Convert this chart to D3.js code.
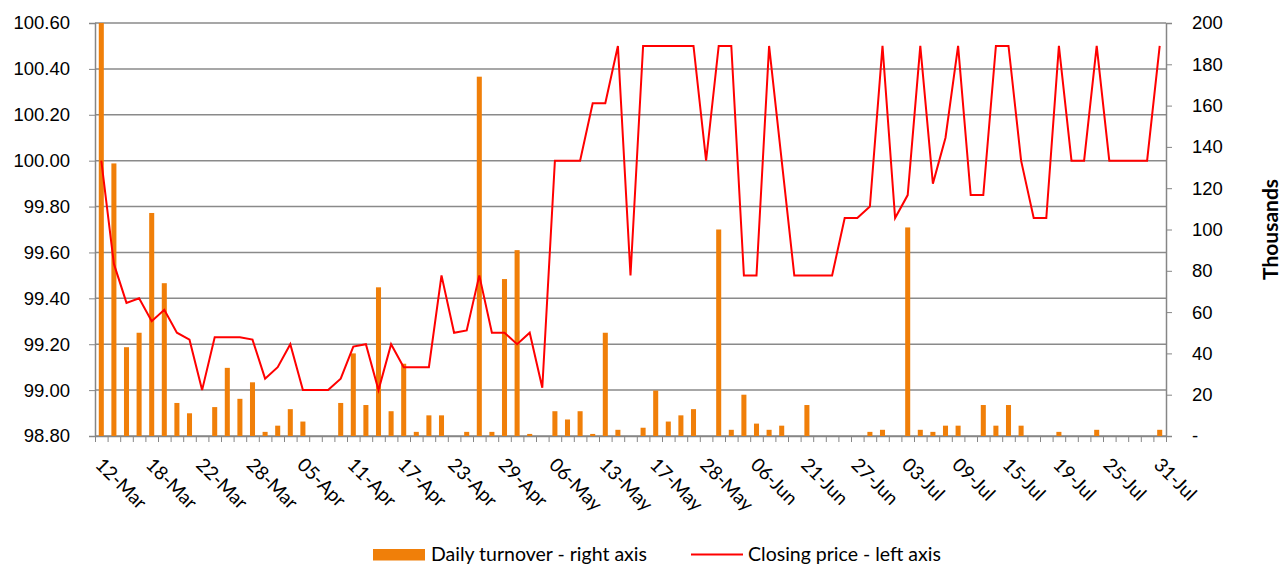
<!DOCTYPE html>
<html>
<head>
<meta charset="utf-8">
<script src="https://cdn.jsdelivr.net/npm/d3@7"></script>
<style>
  body { margin: 0; background: #fff; }
  svg { font-family: Lato, 'Open Sans', sans-serif; }
  .axis path, .axis line { stroke: #868686; }
  .axis text { fill: #000; font-size: 18.5px; }
</style>
</head>
<body>
<div id="chart"></div>
<script>
// trading days, labels every 4th day
var tickLabels = ['12-Mar', '18-Mar', '22-Mar', '28-Mar', '05-Apr', '11-Apr',
    '17-Apr', '23-Apr', '29-Apr', '06-May', '13-May', '17-May', '28-May',
    '06-Jun', '21-Jun', '27-Jun', '03-Jul', '09-Jul', '15-Jul', '19-Jul',
    '25-Jul', '31-Jul']

// daily turnover, thousands (right axis)
var turnover = [200, 132, 43, 50, 108, 74, 16, 11, 0, 14,
    33, 18, 26, 2, 5, 13, 7, 0, 0, 16,
    40, 15, 72, 12, 35, 2, 10, 10, 0, 2,
    174, 2, 76, 90, 1, 0, 12, 8, 12, 1,
    50, 3, 0, 4, 22, 7, 10, 13, 0, 100,
    3, 20, 6, 3, 5, 0, 15, 0, 0, 0,
    0, 2, 3, 0, 101, 3, 2, 5, 5, 0,
    15, 5, 15, 5, 0, 0, 2, 0, 0, 3,
    0, 0, 0, 0, 3]

// closing price (left axis)
var closing = [100.00, 99.55, 99.38, 99.40, 99.30, 99.35, 99.25, 99.22, 99.00, 99.23,
    99.23, 99.23, 99.22, 99.05, 99.10, 99.20, 99.00, 99.00, 99.00, 99.05,
    99.19, 99.20, 99.00, 99.20, 99.10, 99.10, 99.10, 99.50, 99.25, 99.26,
    99.50, 99.25, 99.25, 99.20, 99.25, 99.01, 100.00, 100.00, 100.00, 100.25,
    100.25, 100.50, 99.50, 100.50, 100.50, 100.50, 100.50, 100.50, 100.00, 100.50,
    100.50, 99.50, 99.50, 100.50, 100.00, 99.50, 99.50, 99.50, 99.50, 99.75,
    99.75, 99.80, 100.50, 99.75, 99.85, 100.50, 99.90, 100.10, 100.50, 99.85,
    99.85, 100.50, 100.50, 100.00, 99.75, 99.75, 100.50, 100.00, 100.00, 100.50,
    100.00, 100.00, 100.00, 100.00, 100.50]

var priceTicks = [98.8, 99.0, 99.2, 99.4, 99.6, 99.8, 100.0, 100.2, 100.4, 100.6]
var turnoverTicks = [0, 20, 40, 60, 80, 100, 120, 140, 160, 180, 200]

var plotLeft = 95, plotRight = 1166, plotTop = 23, plotBottom = 436

var svg = d3.select('#chart')
    .append('svg')
    .attr('width', 1282)
    .attr('height', 565)

var x = d3.scaleBand()
    .domain(d3.range(closing.length))
    .range([plotLeft, plotRight])
    .paddingInner(0.6)
    .paddingOuter(0.3)

var xEdge = d3.scaleLinear()
    .domain([0, closing.length])
    .range([plotLeft, plotRight])

var yPrice = d3.scaleLinear()
    .domain([98.8, 100.6])
    .range([plotBottom, plotTop])

var yVol = d3.scaleLinear()
    .domain([0, 200])
    .range([plotBottom, plotTop])
    .clamp(true)

// gridlines
svg.append('g')
    .selectAll('line')
    .data(priceTicks)
    .enter()
    .append('line')
    .attr('x1', plotLeft)
    .attr('x2', plotRight)
    .attr('y1', (d) => yPrice(d))
    .attr('y2', (d) => yPrice(d))
    .attr('stroke', '#8a8a8a')
    .attr('stroke-width', 1.5)

// left axis
var gl = svg.append('g')
    .attr('class', 'axis')
    .attr('transform', 'translate(' + plotLeft + ',0)')
    .call(d3.axisLeft(yPrice)
        .tickValues(priceTicks)
        .tickFormat(d3.format('.2f'))
        .tickSize(6)
        .tickPadding(19))
gl.select('.domain').attr('stroke-width', 1.5)

// right axis
var gr = svg.append('g')
    .attr('class', 'axis')
    .attr('transform', 'translate(' + plotRight + ',0)')
    .call(d3.axisRight(yVol)
        .tickValues(turnoverTicks)
        .tickFormat((d) => d === 0 ? '-' : d)
        .tickSize(6)
        .tickPadding(20))
gr.select('.domain').attr('stroke-width', 1.5)

// bottom axis ticks between days
var gb = svg.append('g')
    .attr('class', 'axis')
    .attr('transform', 'translate(0,' + plotBottom + ')')
    .call(d3.axisBottom(xEdge)
        .tickValues(d3.range(closing.length + 1))
        .tickFormat('')
        .tickSize(6)
        .tickSizeOuter(0))
gb.select('.domain').attr('stroke-width', 1.5)

// date labels
svg.append('g')
    .selectAll('text')
    .data(tickLabels)
    .enter()
    .append('text')
    .attr('transform', (d, k) => {
        var cx = x(k * 4) + x.bandwidth() / 2
        return 'translate(' + (cx - 7) + ',466) rotate(45)'
    })
    .attr('font-size', '19px')
    .attr('fill', '#000')
    .text((d) => d)

// turnover bars
svg.append('g')
    .selectAll('rect')
    .data(turnover)
    .enter()
    .append('rect')
    .attr('x', (d, i) => x(i))
    .attr('width', x.bandwidth())
    .attr('y', (d) => yVol(d))
    .attr('height', (d) => plotBottom - yVol(d))
    .attr('fill', '#f07f09')

// closing price line
var line = d3.line()
    .x((d, i) => x(i) + x.bandwidth() / 2)
    .y((d) => yPrice(d))

svg.append('path')
    .datum(closing)
    .attr('d', line)
    .attr('fill', 'none')
    .attr('stroke', '#ff0000')
    .attr('stroke-width', 2)

// right axis title
svg.append('text')
    .attr('transform', 'translate(1278,' + ((plotTop + plotBottom) / 2) + ') rotate(-90)')
    .attr('text-anchor', 'middle')
    .attr('font-size', '21px')
    .attr('font-weight', 'bold')
    .attr('fill', '#000')
    .text('Thousands')

// legend
var legend = svg.append('g').attr('font-size', '19.5px').attr('fill', '#000')
legend.append('rect')
    .attr('x', 373).attr('y', 549)
    .attr('width', 52).attr('height', 11.5)
    .attr('fill', '#f07f09')
legend.append('text')
    .attr('x', 431).attr('y', 561)
    .text('Daily turnover - right axis')
legend.append('line')
    .attr('x1', 691).attr('x2', 743)
    .attr('y1', 554.5).attr('y2', 554.5)
    .attr('stroke', '#ff0000')
    .attr('stroke-width', 2)
legend.append('text')
    .attr('x', 748).attr('y', 561)
    .text('Closing price - left axis')
</script>
</body>
</html>
